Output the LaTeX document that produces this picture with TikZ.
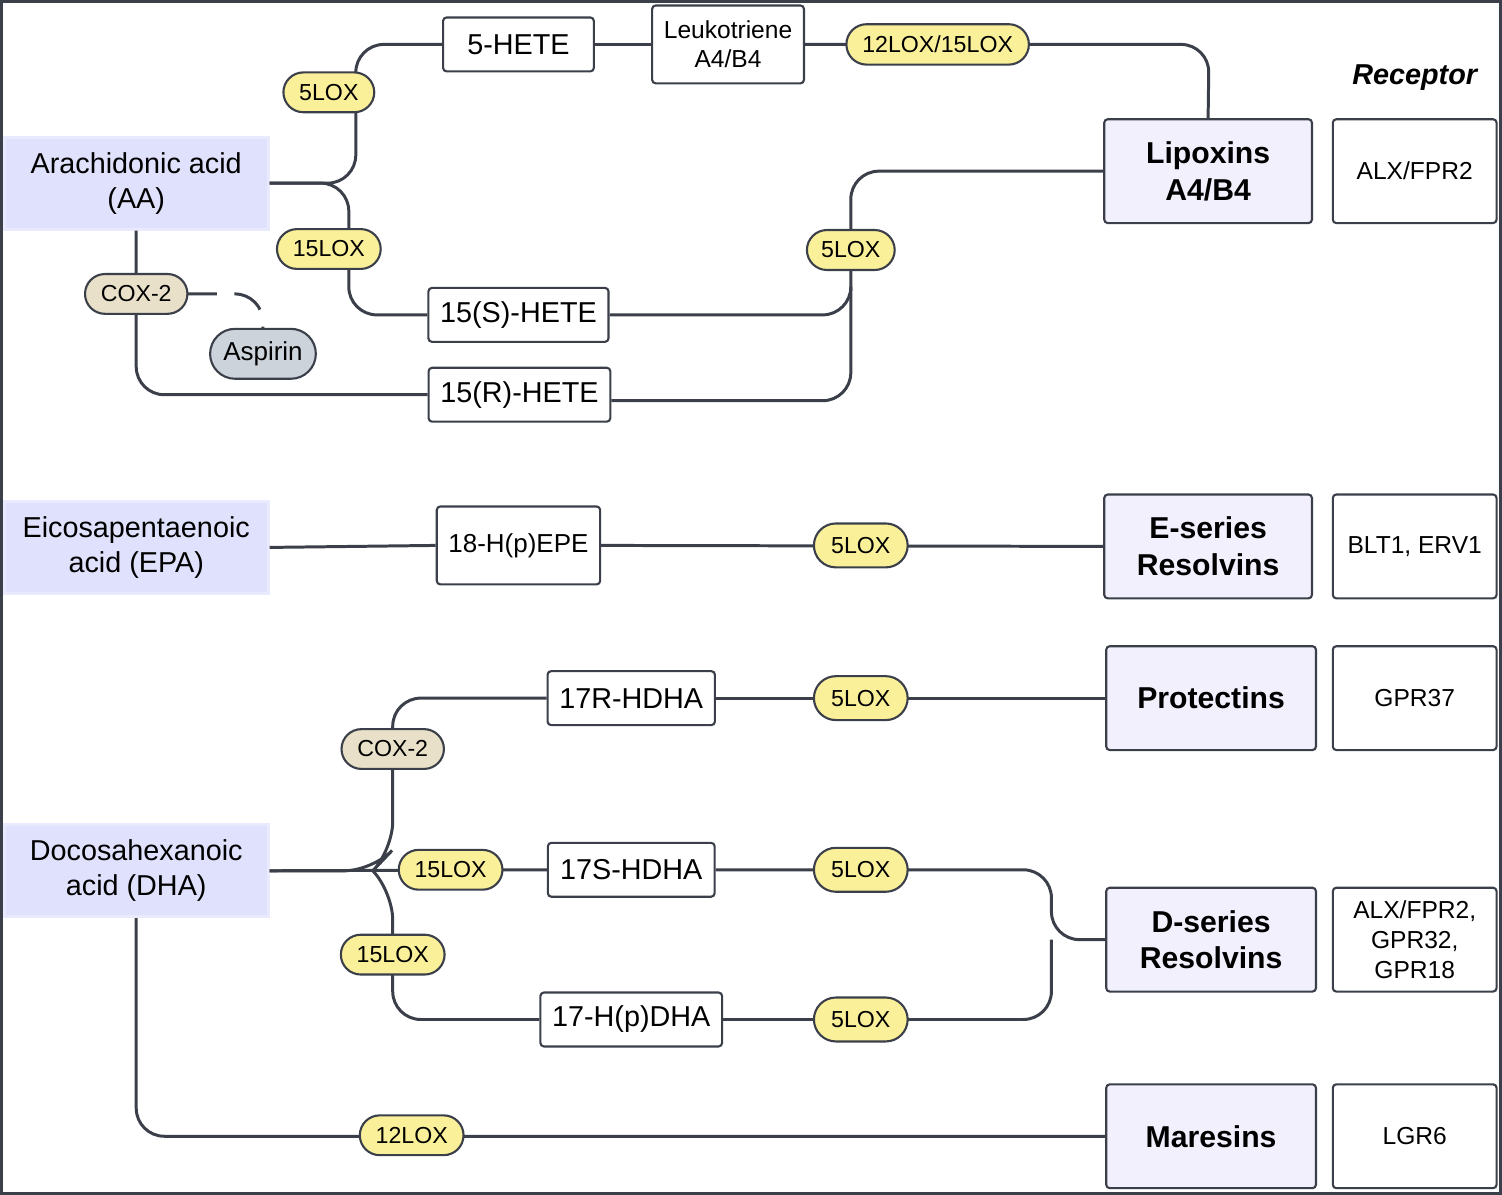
\documentclass[tikz,border=0pt]{standalone}
\usepackage{fontspec}
\setmainfont{Liberation Sans}
\usetikzlibrary{calc,positioning,shapes.misc}
\definecolor{acid}{HTML}{E0E1FC}
\definecolor{prod}{HTML}{F1F0FC}
\definecolor{enz}{HTML}{FAF09A}
\definecolor{cox}{HTML}{E8E0C8}
\definecolor{asp}{HTML}{CDD3DA}
\definecolor{wire}{HTML}{3A3F4A}
\tikzstyle{every path}+=[line width=0.85pt,draw=wire]
\tikzstyle{acidbox}=[rectangle,fill=acid,draw=acid!70!white,minimum width=2.64cm,minimum height=0.92cm,align=center,font=\fontsize{8.2}{10}\selectfont]
\tikzstyle{mid}=[rectangle,fill=white,draw=wire,rounded corners=1pt,line width=0.6pt,minimum height=0.54cm,align=center,font=\fontsize{8.2}{10}\selectfont]
\tikzstyle{endbox}=[rectangle,fill=prod,draw=wire,rounded corners=1pt,line width=0.6pt,minimum width=2.1cm,minimum height=1.04cm,align=center,font=\bfseries\fontsize{8.6}{10.4}\selectfont]
\tikzstyle{rec}=[rectangle,fill=white,draw=wire,rounded corners=1pt,line width=0.6pt,minimum width=1.64cm,minimum height=1.04cm,align=center,font=\fontsize{7}{8.6}\selectfont]
\tikzstyle{pill}=[rounded rectangle,fill=enz,draw=wire,line width=0.6pt,minimum height=0.36cm,inner xsep=4pt,font=\fontsize{6.6}{8}\selectfont]
\tikzstyle{wirep}=[rounded corners=8pt]

\begin{document}
\begin{tikzpicture}[x=0.01cm,y=-0.01cm]
\useasboundingbox (0,0) rectangle (1502,1194);
% acids
\node[acidbox] (aa) at (135,182) {Arachidonic acid\\(AA)};
\node[acidbox] (epa) at (135,547) {Eicosapentaenoic\\acid (EPA)};
\node[acidbox] (dha) at (135,871) {Docosahexanoic\\acid (DHA)};

% products and receptors
\node[endbox,minimum width=2.08cm] (lip) at (1209,170) {Lipoxins\\A4/B4};
\node[endbox,minimum width=2.08cm] (eres) at (1209,546) {E-series\\Resolvins};
\node[endbox] (prot) at (1212,698) {Protectins};
\node[endbox] (dres) at (1212,940) {D-series\\Resolvins};
\node[endbox] (mar) at (1212,1137) {Maresins};
\node[rec] (r1) at (1416,170) {ALX/FPR2};
\node[rec] (r2) at (1416,546) {BLT1, ERV1};
\node[rec] (r3) at (1416,698) {GPR37};
\node[rec] (r4) at (1416,940) {ALX/FPR2,\\GPR32,\\GPR18};
\node[rec] (r5) at (1416,1137) {LGR6};
\node[font=\bfseries\itshape\fontsize{8.2}{10}\selectfont] (rlab) at (1416,76) {Receptor};

% AA branch
\node[mid,minimum width=1.51cm] (hete5) at (518,43) {5-HETE};
\node[mid,minimum width=1.51cm,minimum height=0.78cm,font=\fontsize{7}{8.4}\selectfont] (lta) at (728,43) {Leukotriene\\A4/B4};
\node[mid,minimum width=1.79cm] (heteS) at (518,314) {15(S)-HETE};
\node[mid,minimum width=1.79cm] (heteR) at (519,394) {15(R)-HETE};
\coordinate (aasplit) at (348,182);
\coordinate (lipin) at (851,170);
\coordinate (lipS) at (851,314);

\draw[wirep] (aa.east) -- (355,182) -- (355,43) -- (hete5.west);
\draw[wirep] (aa.east) -- (aasplit) -- (348,314) -- (heteS.west);
\draw (hete5) -- (lta);
\draw[wirep] (lta.east) -- (1210,43) -- (lip.north);
\draw[wirep] (lip.west) -- (lipin) -- (851,400) -- (heteR.east|-0,400);
\draw[wirep] (heteS.east) -- (lipS) -- (851,290);
\draw[wirep] (aa.south) -- (135,394) -- (heteR.west);
\draw[dashed,dash pattern=on 9pt off 5pt,wirep] (135,293) -- (262,293) -- (262,328);

\node[pill,minimum width=1.8cm] (e1) at (938,43) {12LOX/15LOX};
\node[pill,minimum width=0.88cm] (e2) at (328,91) {5LOX};
\node[pill,minimum width=0.88cm] (e3) at (328,248) {15LOX};
\node[pill,fill=cox,minimum width=0.88cm] (e4) at (135,293) {COX-2};
\node[pill,fill=asp,minimum width=1.34cm,minimum height=0.5cm,font=\fontsize{7.4}{9}\selectfont] (asp) at (262,353) {Aspirin};
\node[pill,minimum width=1.16cm,minimum height=0.4cm] (e5) at (851,249) {5LOX};

% EPA branch
\node[mid,minimum width=1.51cm,minimum height=0.78cm,font=\fontsize{7.4}{9}\selectfont] (hepe) at (518,545) {18-H(p)EPE};
\draw (epa.east) -- (hepe.west);
\draw (hepe.east) -- (eres.west);
\node[pill,minimum width=1.22cm,minimum height=0.44cm] (e6) at (861,545) {5LOX};

% DHA branch
\node[mid,minimum width=1.67cm] (hdR) at (631,698) {17R-HDHA};
\node[mid,minimum width=1.67cm] (hdS) at (631,870) {17S-HDHA};
\node[mid,minimum width=1.77cm] (hdP) at (631,1020) {17-H(p)DHA};
\coordinate (dsplit) at (372,871);
\coordinate (djoin) at (1052,940);
\draw (dha.east) -- (hdS.west);
\draw[wirep] (dha.east) -- (372,871) -- (392,850) -- (392,698) -- (hdR.west);
\draw[wirep] (dsplit) -- (392,892) -- (392,1020) -- (hdP.west);
\draw (hdR.east) -- (prot.west);
\draw[wirep] (hdS.east) -- (1052,870) -- (djoin) -- (dres.west);
\draw[wirep] (hdP.east) -- (1052,1020) -- (djoin);
\draw[wirep] (dha.south) -- (135,1137) -- (mar.west);

\node[pill,fill=cox,minimum width=0.88cm] (e7) at (392,749) {COX-2};
\node[pill,minimum width=0.88cm] (e8) at (450,870) {15LOX};
\node[pill,minimum width=0.88cm] (e9) at (392,955) {15LOX};
\node[pill,minimum width=0.88cm] (e10) at (411,1136) {12LOX};
\foreach \y/\n in {698/f1,870/f2,1020/f3}
  \node[pill,minimum width=1.22cm,minimum height=0.44cm] (\n) at (861,\y) {5LOX};
\end{tikzpicture}
\end{document}
